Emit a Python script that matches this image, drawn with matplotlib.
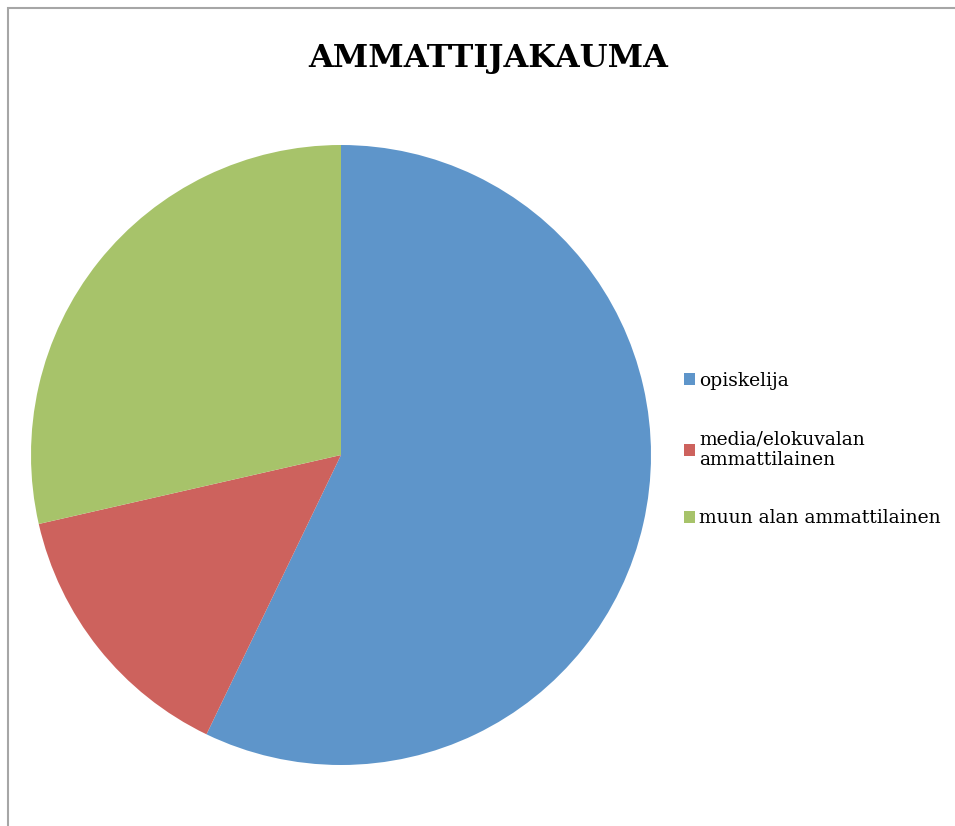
import matplotlib.pyplot as plt
from matplotlib.patches import Rectangle

labels = ['opiskelija', 'media/elokuvalan\nammattilainen', 'muun alan ammattilainen']
values = [20, 5, 10]
colors = ['#5E95CA', '#CD625D', '#A7C36A']

fig = plt.figure(figsize=(9.55, 8.26), dpi=100)

# chart frame (cropped at right/bottom)
fig.patches.append(Rectangle((8 / 955, -0.1), 1.2, (826 - 8) / 826 + 0.1,
                             transform=fig.transFigure, fill=False,
                             edgecolor='#A6A6A6', linewidth=1.5))

ax = fig.add_axes([31 / 955, 61 / 826, 620 / 955, 620 / 826])
wedges, _ = ax.pie(values, colors=colors, startangle=90, counterclock=False,
                   wedgeprops=dict(linewidth=0))
ax.set_xlim(-1, 1)
ax.set_ylim(-1, 1)
ax.set_aspect('equal')

fig.text(488 / 955, 1 - 58 / 826, 'AMMATTIJAKAUMA', ha='center', va='center',
         fontsize=23, fontweight='bold', family='DejaVu Serif')

fig.legend(wedges, labels, loc='upper left', bbox_to_anchor=(667 / 955, 1 - 355 / 826),
           frameon=False, handlelength=0.6, handleheight=0.6, handletextpad=0.2,
           labelspacing=2.15, prop=dict(family='DejaVu Serif', size=13.5))

fig.savefig('out.png', dpi=100, facecolor='white')
